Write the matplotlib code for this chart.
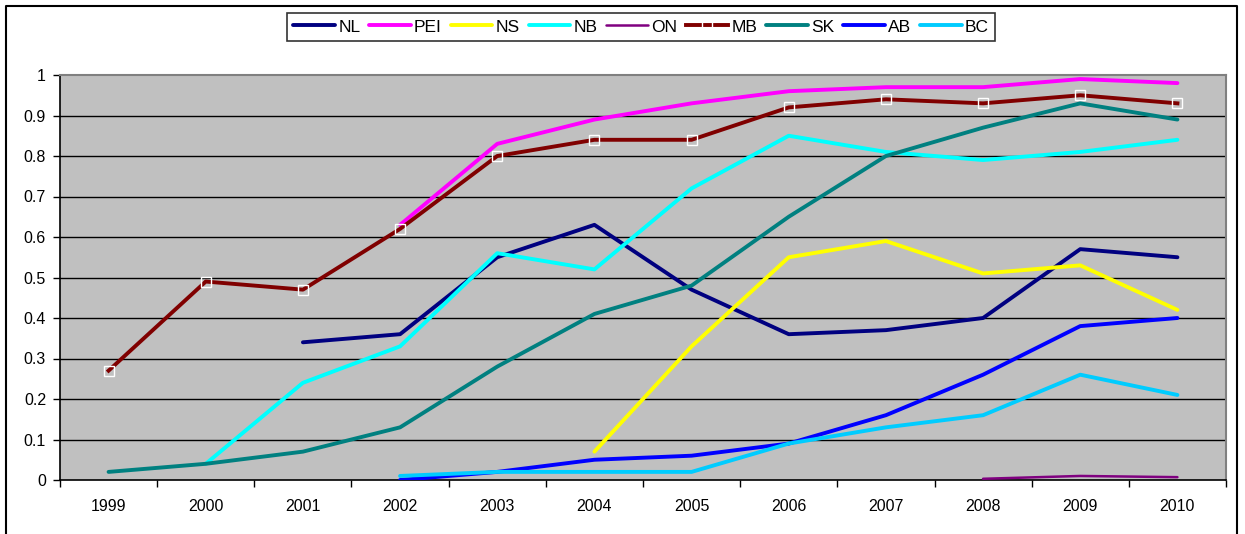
import numpy as np
import matplotlib.pyplot as plt
from matplotlib.lines import Line2D

plt.rcParams['font.family'] = ['Liberation Sans', 'DejaVu Sans']

# --- DATA ---
years = ["1999", "2000", "2001", "2002", "2003", "2004",
         "2005", "2006", "2007", "2008", "2009", "2010"]
nan = np.nan

NL = [nan, nan, 0.34, 0.36, 0.55, 0.63, 0.47, 0.36, 0.37, 0.40, 0.57, 0.55]
PEI = [nan, nan, nan, 0.63, 0.83, 0.89, 0.93, 0.96, 0.97, 0.97, 0.99, 0.98]
NS = [nan, nan, nan, nan, nan, 0.07, 0.33, 0.55, 0.59, 0.51, 0.53, 0.42]
NB = [nan, 0.04, 0.24, 0.33, 0.56, 0.52, 0.72, 0.85, 0.81, 0.79, 0.81, 0.84]
ON = [nan, nan, nan, nan, nan, nan, nan, nan, nan, 0.003, 0.01, 0.007]
MB = [0.27, 0.49, 0.47, 0.62, 0.80, 0.84, 0.84, 0.92, 0.94, 0.93, 0.95, 0.93]
SK = [0.02, 0.04, 0.07, 0.13, 0.28, 0.41, 0.48, 0.65, 0.80, 0.87, 0.93, 0.89]
AB = [nan, nan, nan, 0.00, 0.02, 0.05, 0.06, 0.09, 0.16, 0.26, 0.38, 0.40]
BC = [nan, nan, nan, 0.01, 0.02, 0.02, 0.02, 0.09, 0.13, 0.16, 0.26, 0.21]

series = [("NL", NL, "#000080"), ("PEI", PEI, "#FF00FF"), ("NS", NS, "#FFFF00"),
          ("NB", NB, "#00FFFF"), ("ON", ON, "#800080"), ("MB", MB, "#800000"),
          ("SK", SK, "#008080"), ("AB", AB, "#0000FF"), ("BC", BC, "#00CCFF")]

fig = plt.figure(figsize=(12.45, 5.34), dpi=100)
ax = fig.add_axes([60 / 1245, 1 - 480 / 534, 1166 / 1245, 405 / 534])
ax.set_facecolor("#C0C0C0")

x = np.arange(len(years))
for name, vals, col in series:
    if name == "MB":
        ax.plot(x, vals, color=col, lw=2.8, marker="s", ms=6.5,
                mfc="none", mec="white", mew=1.0, label=name, zorder=3)
    else:
        lw = 1.8 if name == "ON" else 2.8
        ax.plot(x, vals, color=col, lw=lw, label=name, zorder=3,
                solid_capstyle="round")

ax.set_xlim(-0.5, len(years) - 0.5)
ax.set_ylim(0, 1)
ax.set_yticks(np.arange(0, 1.01, 0.1))
ax.set_yticklabels(["0"] + ["%.1f" % v for v in np.arange(0.1, 0.95, 0.1)] + ["1"])
for v in np.arange(0.1, 0.95, 0.1):
    ax.axhline(v, color="black", lw=1.0, zorder=1)

ax.set_xticks(x)
ax.set_xticklabels(years)
ax.set_xticks(np.arange(-0.5, len(years)), minor=True)
ax.tick_params(axis="x", which="major", length=0, pad=14, labelsize=11.5)
ax.tick_params(axis="x", which="minor", length=5, width=1, color="black")
ax.tick_params(axis="y", length=5, width=1, pad=5, labelsize=11.5)

for side in ["top", "right"]:
    ax.spines[side].set_color("#808080")
    ax.spines[side].set_linewidth(1.5)
for side in ["left", "bottom"]:
    ax.spines[side].set_color("black")
    ax.spines[side].set_linewidth(1.2)

# outer chart border
fig.add_artist(Line2D([6 / 1245, 6 / 1245, 1237 / 1245, 1237 / 1245],
                      [0, 1 - 6 / 534, 1 - 6 / 534, 0],
                      transform=fig.transFigure, color="black", lw=1.5))

leg = fig.legend(loc="center", bbox_to_anchor=(641 / 1245, 1 - 27 / 534),
                 ncol=9, fontsize=12.5, frameon=True, fancybox=False,
                 edgecolor="black", handlelength=2.4, handletextpad=0.2,
                 columnspacing=0.5, borderpad=0.35)
leg.get_frame().set_linewidth(1.2)

fig.savefig("out.png", dpi=100)
